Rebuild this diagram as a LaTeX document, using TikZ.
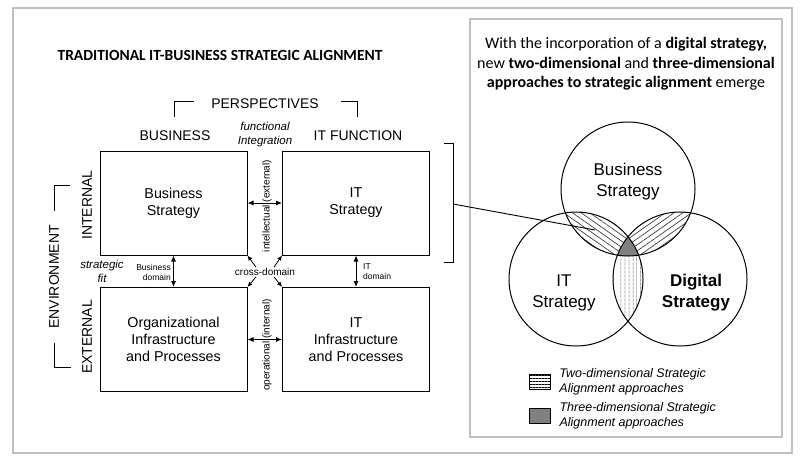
\documentclass[tikz,border=0pt]{standalone}
\usepackage{fontspec}
\setmainfont{Liberation Sans}
\newfontfamily\calibri{Carlito}
\usepackage{xcolor}
\usetikzlibrary{positioning,arrows.meta,calc,patterns.meta}
\definecolor{framegray}{RGB}{192,192,192}
\definecolor{hatchgray}{RGB}{60,60,60}
\definecolor{coregray}{RGB}{128,128,128}

\tikzset{
  frame/.style={draw=framegray, line width=2pt},
  title/.style={font=\calibri\bfseries\fontsize{15.5}{18}\selectfont},
  intro/.style={font=\calibri\fontsize{16}{19.5}\selectfont, align=center},
  label14/.style={font=\fontsize{14}{17}\selectfont},
  quad/.style={draw, line width=1pt, minimum width=147pt, minimum height=104pt,
    align=center, font=\fontsize{14.3}{17}\selectfont},
  italic11/.style={font=\itshape\fontsize{11.5}{14}\selectfont, align=center, inner sep=1pt},
  small10/.style={font=\fontsize{10}{12}\selectfont, inner sep=1pt},
  small8/.style={font=\fontsize{8.5}{10}\selectfont, inner sep=1pt},
  dblarr/.style={{Latex[length=6pt,width=5pt]}-{Latex[length=6pt,width=5pt]}, line width=0.9pt},
  arr/.style={-{Latex[length=5pt,width=4.5pt]}, line width=0.8pt},
  venn/.style={draw, circle, line width=1pt, minimum size=134pt, inner sep=0pt},
  vtext/.style={font=\fontsize{17}{21}\selectfont, align=center},
  keybox/.style={draw, line width=0.8pt, minimum width=21pt, minimum height=15pt, inner sep=0pt},
  legtext/.style={font=\itshape\fontsize{12.5}{15}\selectfont, align=left, inner sep=2pt},
}

\begin{document}
\begin{tikzpicture}[x=1pt,y=-1pt]
\useasboundingbox (0,0) rectangle (800,459);
% frames
\draw[frame] (13,8) rectangle (792,453);
\draw[frame, line width=2.5pt] (470,19) rectangle (782,437);

% traditional model
\node[title] (ttl) at (220,55) {TRADITIONAL IT-BUSINESS STRATEGIC ALIGNMENT};
\node[label14] (persp) at (265,104) {PERSPECTIVES};
\draw ($(persp.west)+(-14,-3)$) -| ++(-20,16);
\draw ($(persp.east)+(19,-3)$) -| ++(16,16);
\node[label14] (bus) at (175,136) {BUSINESS};
\node[label14] (itf) at (358,136) {IT FUNCTION};
\node[italic11] (fint) at (265,135) {functional\\Integration};

\node[quad] (bs) at (173.5,203) {Business\\Strategy};
\node[quad] (its) at (356,203) {IT\\Strategy};
\node[quad] (oi) at (173.5,339.5) {Organizational\\Infrastructure\\and Processes};
\node[quad] (iti) at (356,339.5) {IT\\Infrastructure\\and Processes};

\draw[dblarr] (bs.east) -- (its.west);
\node[small10, rotate=90] (intl) at (267,206) {intellectual (external)};
\draw[dblarr] (oi.east) -- (iti.west);
\node[small10, rotate=90] (oper) at (267,345) {operational (internal)};

\draw[dblarr] (bs.south) -- (oi.north);
\draw[dblarr] (its.south) -- (iti.north);
\node[small8, align=right, anchor=east] (bdom) at (172,272) {Business\\domain};
\node[small8, align=left, anchor=west] (idom) at (362,272) {IT\\domain};
\node[italic11] (sfit) at (102,271) {strategic\\fit};

\node[small10] (cd) at (265,272) {cross-domain};
\draw[arr] ($(cd.north)+(-9,0)$) -- (bs.south east);
\draw[arr] ($(cd.north)+(9,0)$) -- (its.south west);
\draw[arr] ($(cd.south)+(-9,0)$) -- (oi.north east);
\draw[arr] ($(cd.south)+(9,0)$) -- (iti.north west);

\node[label14, rotate=90] (intn) at (87,205) {INTERNAL};
\node[label14, rotate=90] (extn) at (87,337) {EXTERNAL};
\node[label14, rotate=90] (env) at (54,277) {ENVIRONMENT};
\draw ($(env.east)+(0,-11)$) |- ++(16,-26);
\draw ($(env.west)+(0,11)$) |- ++(17,24);

\draw ($(its.north east)+(14,-7)$) -| ++(9,119) -- ++(-9,0);
\coordinate (brk) at ($(its.east)+(23,1)$);

% digital strategy
\node[intro] (head) at (626,64) {With the incorporation of a \textbf{digital strategy,}\\
  new \textbf{two-dimensional} and \textbf{three-dimensional}\\
  \textbf{approaches to strategic alignment} emerge};

\coordinate (bc) at (628,189);
\coordinate (ic) at (576,279);
\coordinate (dc) at (680,279);
\coordinate (lens) at (595,230);

\begin{scope}
  \clip (bc) circle[radius=67pt];
  \fill[pattern={Lines[angle=-35,distance=5pt,line width=0.7pt]}, pattern color=hatchgray] (ic) circle[radius=67pt];
\end{scope}
\begin{scope}
  \clip (bc) circle[radius=67pt];
  \fill[pattern={Lines[angle=35,distance=5pt,line width=0.7pt]}, pattern color=hatchgray] (dc) circle[radius=67pt];
\end{scope}
\begin{scope}
  \clip (ic) circle[radius=67pt];
  \fill[pattern={Lines[angle=90,distance=4pt,line width=0.7pt]}, pattern color=hatchgray] (dc) circle[radius=67pt];
\end{scope}
\begin{scope}
  \clip (bc) circle[radius=67pt];
  \clip (ic) circle[radius=67pt];
  \fill[coregray] (dc) circle[radius=67pt];
\end{scope}

\node[venn] (bcir) at (bc) {};
\node[venn] (icir) at (ic) {};
\node[venn] (dcir) at (dc) {};

\node[vtext] (bt) at (628,182) {Business\\Strategy};
\node[vtext] (itt) at (564,293) {IT\\Strategy};
\node[vtext, font=\bfseries\fontsize{17}{21}\selectfont] (dt) at (696,293) {Digital\\Strategy};

\draw[line width=0.9pt] (brk) -- (lens);

% legend
\node[keybox, pattern={Lines[distance=3pt,line width=0.5pt]}] (k2) at (539.5,381.5) {};
\node[legtext, right=7pt of k2] (l2) {Two-dimensional Strategic\\Alignment approaches};
\node[keybox, fill=coregray] (k3) at (539.5,416) {};
\node[legtext, right=7pt of k3] (l3) {Three-dimensional Strategic\\Alignment approaches};
\end{tikzpicture}
\end{document}
